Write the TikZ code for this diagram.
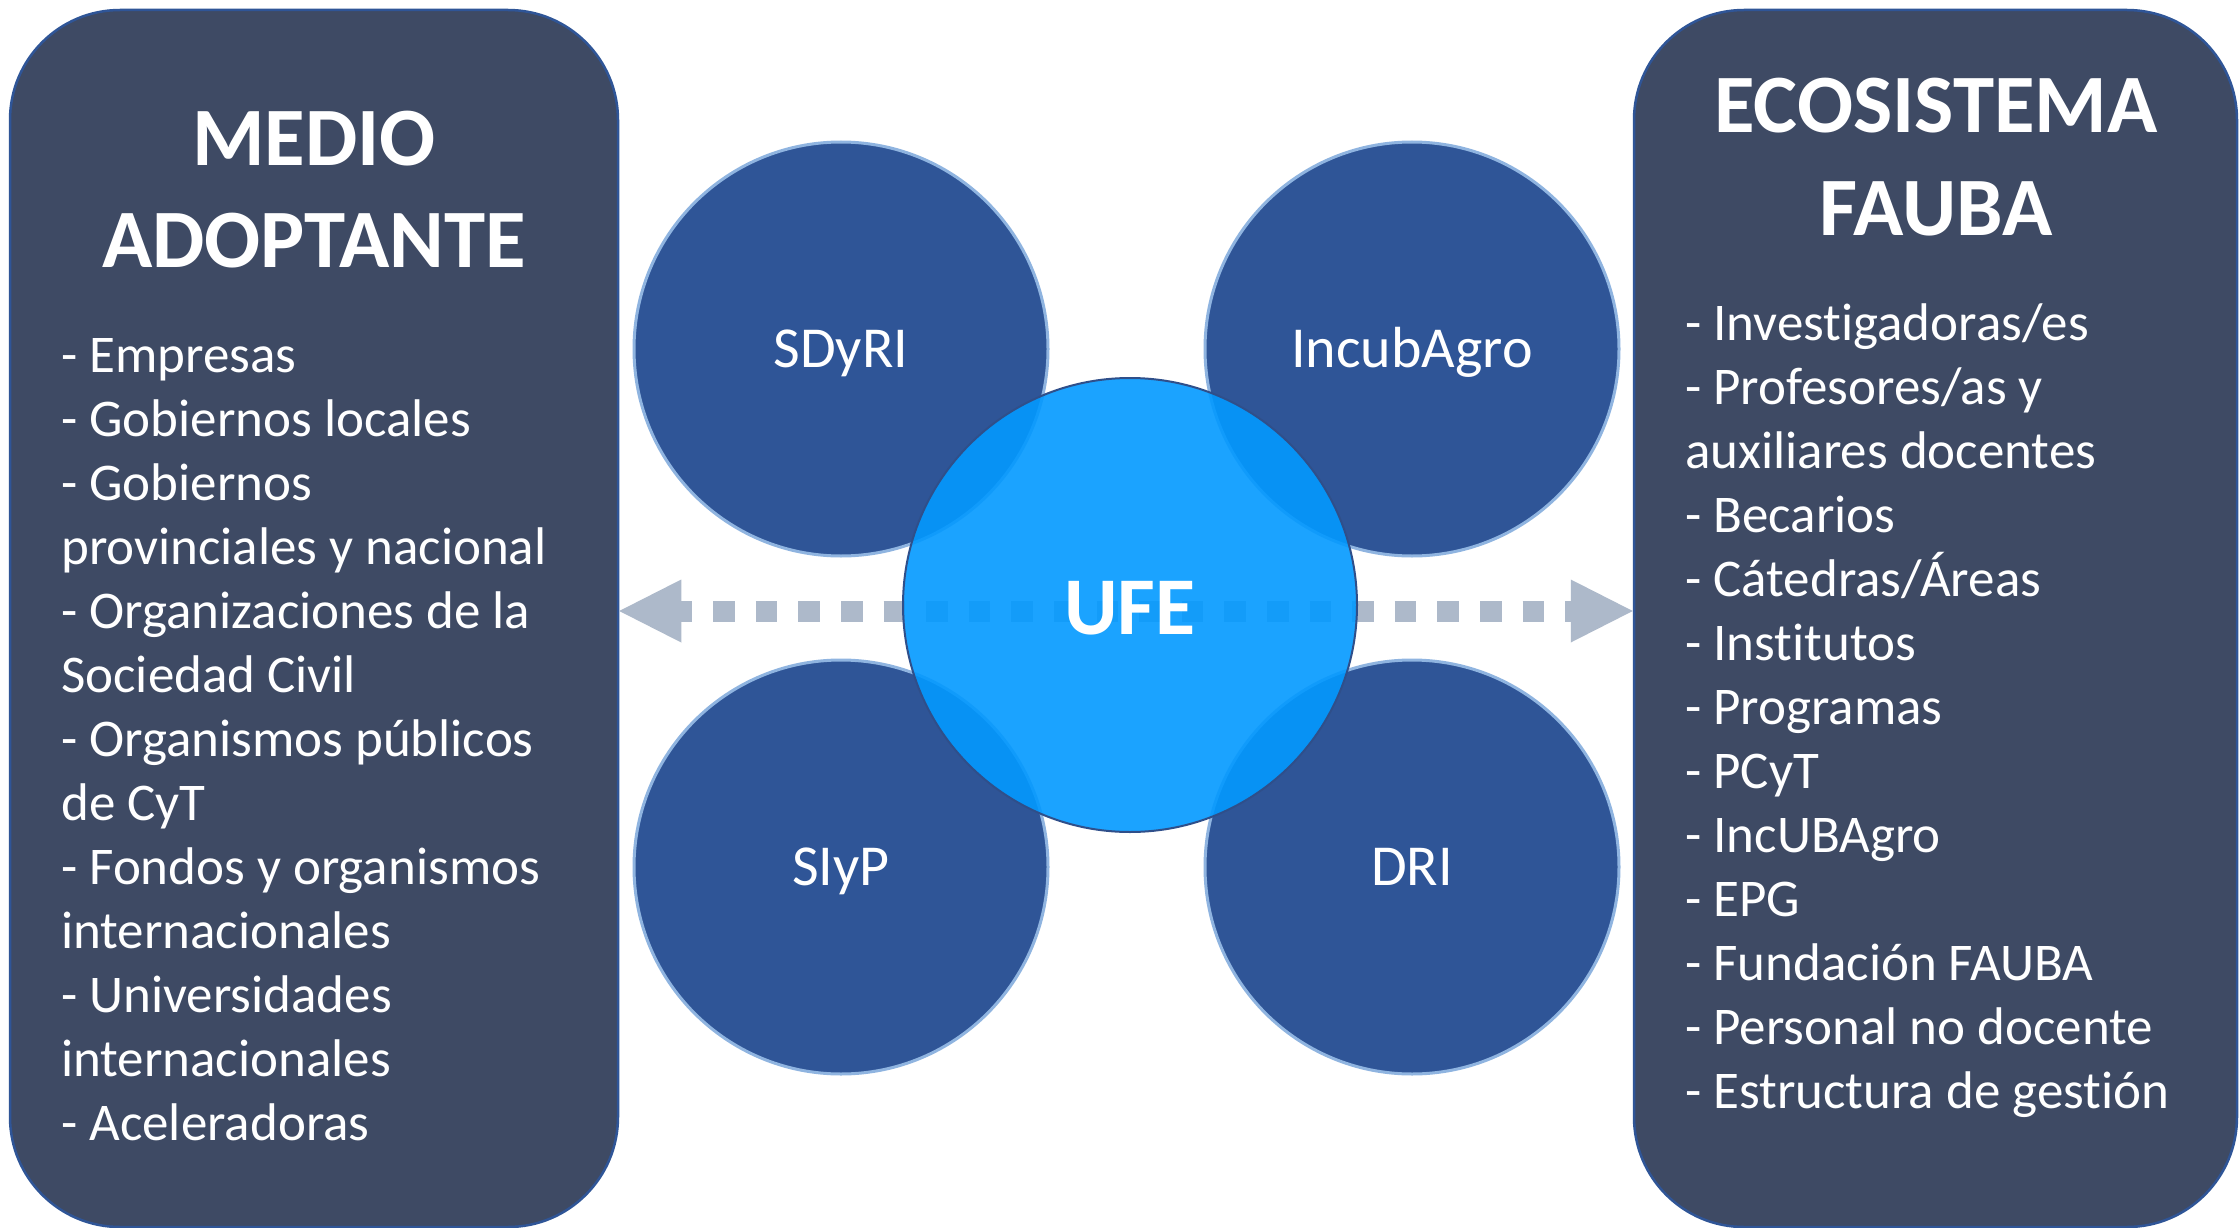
\documentclass[tikz,border=0pt]{standalone}
\usepackage{fontspec}
\setmainfont{Carlito}[Ligatures=NoCommon, RawFeature={-calt;-clig}]
\definecolor{panelfill}{HTML}{3E4A64}
\definecolor{panelline}{HTML}{2F5597}
\definecolor{unitfill}{HTML}{2F5597}
\definecolor{unitline}{HTML}{8FB4E0}
\definecolor{corefill}{HTML}{0399FF}
\definecolor{coreline}{HTML}{2F4F8A}
\definecolor{flowcol}{HTML}{ADB9CA}
\begin{document}
\begin{tikzpicture}[x=1pt,y=-1pt,
  panel/.style={draw=panelline, line width=2.5pt, fill=panelfill, rounded corners=110pt, inner sep=0pt},
  title/.style={text=white, font=\fontsize{83}{101}\selectfont\bfseries, anchor=base, inner sep=0pt},
  item/.style={text=white, font=\fontsize{53}{64}\selectfont, anchor=base west, inner sep=0pt},
  unit/.style={circle, fill=unitfill, draw=unitline, line width=3pt, minimum size=414pt, inner sep=0pt, text=white, font=\fontsize{58}{70}\selectfont, text height=37pt, text depth=0pt},
  core/.style={circle, fill=corefill, fill opacity=0.9, text opacity=1, draw=coreline, line width=2pt, minimum size=454pt, inner sep=0pt, text=white, font=\fontsize{82}{100}\selectfont\bfseries, text height=53pt, text depth=0pt},
  flow/.style={draw=flowcol, line width=21pt, dash pattern=on 21.5pt off 21.1pt, dash phase=10.6pt},
  head/.style={fill=flowcol}
]
\useasboundingbox (0,0) rectangle (2239,1228);
\fill[white] (0,0) rectangle (2239,1228);

% panels
\node[panel, minimum width=608pt, minimum height=1217pt] (left) at (314,618.5) {};
\node[panel, minimum width=603pt, minimum height=1217pt] (right) at (1935.5,618.5) {};

% titles
\node[title] (lt1) at (314,165) {MEDIO};
\node[title] (lt2) at (314,267) {ADOPTANTE};
\node[title] (rt1) at (1936,133) {ECOSISTEMA};
\node[title] (rt2) at (1936,235) {FAUBA};

% lists
\foreach \t [count=\i from 0] in {- Empresas, - Gobiernos locales, - Gobiernos, provinciales y nacional, - Organizaciones de la, Sociedad Civil, - Organismos públicos, de CyT, - Fondos y organismos, internacionales, - Universidades, internacionales, - Aceleradoras}
  \node[item] (m\i) at (61,{372+64*\i}) {\t};
\foreach \t [count=\i from 0] in {- Investigadoras/es, - Profesores/as y, auxiliares docentes, - Becarios, - Cátedras/Áreas, - Institutos, - Programas, - PCyT, - IncUBAgro, - EPG, - Fundación FAUBA, - Personal no docente, - Estructura de gestión}
  \node[item] (e\i) at (1685,{340+64*\i}) {\t};

% double arrow between panels
\coordinate (aL) at (left.east |- 0,611);
\coordinate (aR) at (right.west |- 0,611);
\draw[flow] ([xshift=62pt]aL) -- ([xshift=-62pt]aR);
\fill[head] (aL) -- ++(62,-31.5) -- ++(0,63) -- cycle;
\fill[head] (aR) -- ++(-62,-31.5) -- ++(0,63) -- cycle;

% circles
\node[unit] (sdyri) at (841,349) {SDyRI};
\node[unit] (incub) at (1412,349) {IncubAgro};
\node[unit] (siyp) at (841,867) {SIyP};
\node[unit] (dri) at (1412,867) {DRI};
\node[core] (ufe) at (1130,605) {\raisebox{-3pt}{UFE}};
\end{tikzpicture}
\end{document}
